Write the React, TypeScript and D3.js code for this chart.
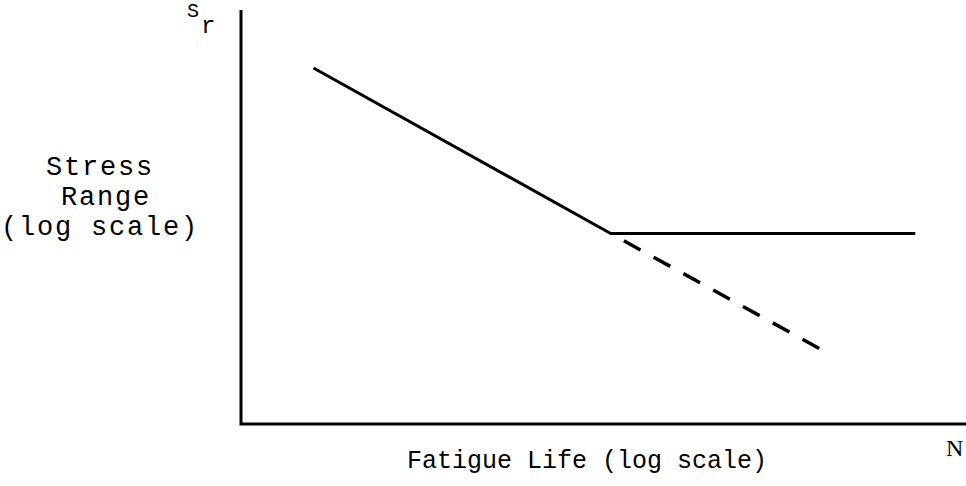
import React from "react";
import * as d3 from "d3";

// S-N curve, both axes in arbitrary log units (0..100)
const solidLife = [10, 51, 93];
const solidStress = [86, 46, 46];
const dashedLife = [51, 80];
const dashedStress = [46, 18];
const yLabelLines = ["Stress", "Range", "(log scale)"];
const xLabel = "Fatigue Life (log scale)";

const W = 966, H = 486;

export default function App() {
  const x = d3.scaleLinear().domain([0, 100]).range([241, 966]);
  const y = d3.scaleLinear().domain([0, 100]).range([424, 10]);

  const line = d3.line<[number, number]>()
    .x(d => x(d[0]))
    .y(d => y(d[1]));

  const solid = solidLife.map((n, i) => [n, solidStress[i]] as [number, number]);
  const dashed = dashedLife.map((n, i) => [n, dashedStress[i]] as [number, number]);

  const mono = "'Liberation Mono', 'DejaVu Sans Mono', monospace";

  return (
    <svg width={W} height={H} style={{ position: "absolute", left: 0, top: 0, background: "#fff" }}>
      {/* axes */}
      <path d={`M${x(0)},${y(100)}V${y(0)}H${x(100)}`} fill="none" stroke="#000" strokeWidth={3} />

      <path d={line(solid) || ""} fill="none" stroke="#000" strokeWidth={3} />
      <path d={line(dashed) || ""} fill="none" stroke="#000" strokeWidth={3.5}
        strokeDasharray="19,15" strokeDashoffset={19} />

      {/* S_r at top of y axis */}
      <text x={187} y={17} fontFamily={mono} fontSize={20} fill="#000">S</text>
      <text x={201} y={33} fontFamily={mono} fontSize={24} fill="#000">r</text>

      <g fontFamily={mono} fontSize={27} letterSpacing={1.8} fill="#000">
        <text x={46} y={175}>{yLabelLines[0]}</text>
        <text x={61} y={205}>{yLabelLines[1]}</text>
        <text x={1} y={235}>{yLabelLines[2]}</text>
      </g>

      <text x={407} y={468} fontFamily={mono} fontSize={25} fill="#000">{xLabel}</text>
      <text x={946} y={456} fontFamily="'Liberation Serif', serif" fontSize={24} fill="#000">N</text>
    </svg>
  );
}
